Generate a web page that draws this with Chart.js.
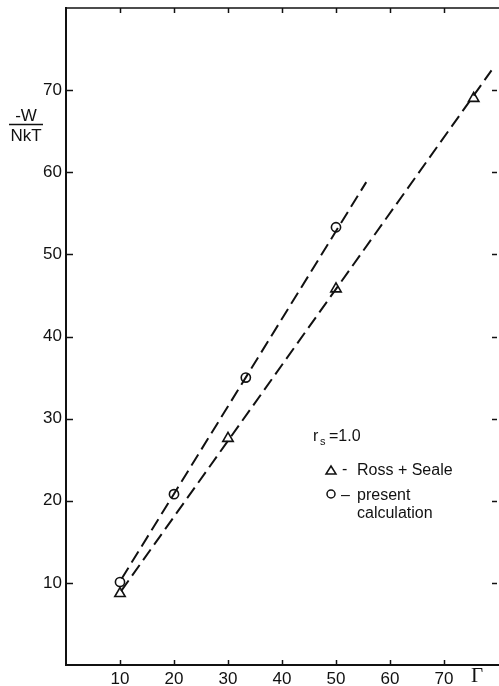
<!DOCTYPE html>
<html>
<head>
<meta charset="utf-8">
<script src="https://cdn.jsdelivr.net/npm/chart.js@4/dist/chart.umd.min.js"></script>
<style>
  html, body { margin: 0; padding: 0; background: #fff; }
  #wrap { width: 499px; height: 686px; position: relative; }
</style>
</head>
<body>
<div id="wrap"><canvas id="c" width="499" height="686"></canvas></div>
<script>
// ---- data ----
const presentGamma = [10, 20, 33.3, 50];
const presentW     = [10.1, 20.8, 35.0, 53.3];
const rossGamma    = [10, 30, 50, 75.5];
const rossW        = [8.7, 27.6, 45.8, 69.0];
// dashed fitted lines (end points)
const presentFitGamma = [10.3, 55.6];
const presentFitW     = [10.5, 58.8];
const rossFitGamma    = [10.2, 78.8];
const rossFitW        = [9.0, 72.4];
// tick values
const xTickValues = [10, 20, 30, 40, 50, 60, 70];
const yTickValues = [10, 20, 30, 40, 50, 60, 70];
const legendLines = ['Ross + Seale', 'present', 'calculation'];

const toPts = (xs, ys) => xs.map((x, i) => ({ x: x, y: ys[i] }));
const INK = '#111';
const FONT = '"Liberation Sans", Arial, sans-serif';

const decor = {
  id: 'decor',
  afterDraw(chart) {
    const ctx = chart.ctx;
    const xs = chart.scales.x, ys = chart.scales.y;
    const a = chart.chartArea;
    ctx.save();
    ctx.strokeStyle = INK;
    ctx.fillStyle = INK;
    // top border line
    ctx.lineWidth = 1.6;
    ctx.beginPath();
    ctx.moveTo(a.left, a.top);
    ctx.lineTo(chart.width, a.top);
    ctx.stroke();
    // inward ticks
    ctx.lineWidth = 1.5;
    xTickValues.forEach(v => {
      const px = Math.round(xs.getPixelForValue(v)) + 0.5;
      ctx.beginPath(); ctx.moveTo(px, a.bottom); ctx.lineTo(px, a.bottom - 5); ctx.stroke();
      ctx.beginPath(); ctx.moveTo(px, a.top); ctx.lineTo(px, a.top + 5); ctx.stroke();
    });
    yTickValues.forEach(v => {
      const py = Math.round(ys.getPixelForValue(v)) + 0.5;
      ctx.beginPath(); ctx.moveTo(a.left, py); ctx.lineTo(a.left + 7, py); ctx.stroke();
      ctx.beginPath(); ctx.moveTo(a.right - 6, py); ctx.lineTo(a.right - 1, py); ctx.stroke();
    });
    // y-axis title: fraction -W / NkT
    ctx.font = '17px ' + FONT;
    ctx.textAlign = 'center';
    ctx.textBaseline = 'alphabetic';
    ctx.fillText('-W', 26, 121);
    ctx.fillText('NkT', 26, 141);
    ctx.lineWidth = 1.6;
    ctx.beginPath(); ctx.moveTo(9, 124.5); ctx.lineTo(43, 124.5); ctx.stroke();
    // x-axis title Gamma
    ctx.font = '21px "Liberation Serif", "DejaVu Serif", serif';
    ctx.textAlign = 'center';
    ctx.fillText('\u0393', 477, 682);
    // annotation block
    ctx.font = '16px ' + FONT;
    ctx.textAlign = 'left';
    ctx.fillText('r', 313, 441);
    ctx.font = '11px ' + FONT;
    ctx.fillText('s', 320, 445);
    ctx.font = '16px ' + FONT;
    ctx.fillText('=1.0', 329, 441);
    // legend symbols
    ctx.lineWidth = 1.5;
    ctx.beginPath();
    ctx.moveTo(326, 474); ctx.lineTo(336, 474); ctx.lineTo(331, 466); ctx.closePath();
    ctx.stroke();
    ctx.beginPath(); ctx.arc(331, 494, 4, 0, Math.PI * 2); ctx.stroke();
    ctx.fillText('-', 342, 474);
    ctx.fillText('\u2013', 341, 500);
    ctx.fillText(legendLines[0], 357, 475);
    ctx.fillText(legendLines[1], 357, 500);
    ctx.fillText(legendLines[2], 357, 518);
    ctx.restore();
  }
};

new Chart(document.getElementById('c'), {
  type: 'scatter',
  data: {
    datasets: [
      {
        label: 'present fit',
        data: toPts(presentFitGamma, presentFitW),
        showLine: true, borderColor: INK, borderWidth: 2,
        borderDash: [13, 6], pointRadius: 0, fill: false
      },
      {
        label: 'Ross fit',
        data: toPts(rossFitGamma, rossFitW),
        showLine: true, borderColor: INK, borderWidth: 2,
        borderDash: [13, 6], pointRadius: 0, fill: false
      },
      {
        label: 'present calculation',
        data: toPts(presentGamma, presentW),
        pointStyle: 'circle', pointRadius: 4.6,
        pointBackgroundColor: '#fff', pointBorderColor: INK, pointBorderWidth: 1.6
      },
      {
        label: 'Ross + Seale',
        data: toPts(rossGamma, rossW),
        pointStyle: 'triangle', pointRadius: 6,
        pointBackgroundColor: '#fff', pointBorderColor: INK, pointBorderWidth: 1.6
      }
    ]
  },
  options: {
    responsive: false,
    animation: false,
    devicePixelRatio: 1,
    layout: { autoPadding: false, padding: { top: 8, right: 1, left: 0, bottom: 0 } },
    plugins: { legend: { display: false }, tooltip: { enabled: false } },
    scales: {
      x: {
        type: 'linear', min: 0, max: 80,
        afterFit: s => { s.height = 21; s.paddingLeft = 0; s.paddingRight = 0; },
        grid: { display: false, drawTicks: false },
        border: { display: true, color: INK, width: 2 },
        ticks: {
          stepSize: 10, padding: 4, color: INK, maxRotation: 0,
          font: { family: FONT, size: 17 },
          callback: v => (xTickValues.includes(v) ? String(v) : '')
        }
      },
      y: {
        type: 'linear', min: 0, max: 80,
        afterFit: s => { s.width = 66; s.paddingTop = 0; s.paddingBottom = 0; },
        grid: { display: false, drawTicks: false },
        border: { display: true, color: INK, width: 2 },
        ticks: {
          stepSize: 10, padding: 4, color: INK,
          font: { family: FONT, size: 17 },
          callback: v => (yTickValues.includes(v) ? String(v) : '')
        }
      }
    }
  },
  plugins: [decor]
});
</script>
</body>
</html>
